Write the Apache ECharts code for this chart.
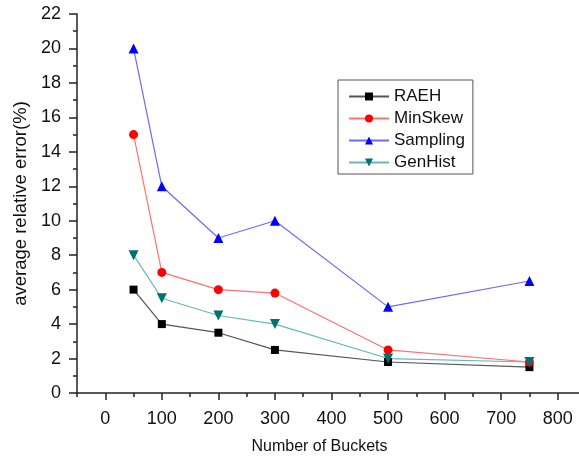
<!DOCTYPE html>
<html>
<head>
<meta charset="utf-8">
<script src="https://cdn.jsdelivr.net/npm/echarts@6/dist/echarts.min.js"></script>
<style>
  html, body { margin: 0; padding: 0; background: #fff; }
  #chart { width: 579px; height: 458px; }
</style>
</head>
<body>
<div id="chart"></div>
<script>
// buckets on the x axis
const buckets = [50, 100, 200, 300, 500, 750];

const raeh = [6, 4, 3.5, 2.5, 1.8, 1.5];
const minSkew = [15, 7, 6, 5.8, 2.5, 1.8];
const sampling = [20, 12, 9, 10, 5, 6.5];
const genHist = [8, 5.5, 4.5, 4, 2, 1.8];

// x ticks: labelled ones every 100, small ones halfway
const xMajorTicks = [0, 100, 200, 300, 400, 500, 600, 700, 800];
const xMinorTicks = [-50, 50, 150, 250, 350, 450, 550, 650, 750, 850];

const font = 'Liberation Sans, Arial, sans-serif';
const ink = '#222';

function pairs(vals) {
  return buckets.map((b, i) => [b, vals[i]]);
}

function line(name, vals, color, lineColor, symbol, size, rotate) {
  return {
    name: name,
    type: 'line',
    data: pairs(vals),
    symbol: symbol,
    symbolSize: size,
    symbolRotate: rotate || 0,
    itemStyle: { color: color },
    lineStyle: { color: lineColor, width: 1.2 },
    emphasis: { disabled: true },
    animation: false
  };
}

const chart = echarts.init(document.getElementById('chart'));
chart.setOption({
  backgroundColor: '#fff',
  grid: { left: 77, top: 14, width: 509, height: 379, outerBoundsMode: 'none' },
  legend: {
    left: 338, top: 80, orient: 'vertical',
    padding: [8, 8, 3, 10],
    borderColor: '#555', borderWidth: 1,
    itemWidth: 40, itemHeight: 10, itemGap: 5,
    textStyle: { fontFamily: font, fontSize: 17, color: '#111' },
    data: ['RAEH', 'MinSkew', 'Sampling', 'GenHist']
  },
  xAxis: [{
    type: 'value', min: -50, max: 850, interval: 50,
    name: 'Number of Buckets', nameLocation: 'middle', nameGap: 46,
    nameTextStyle: { fontFamily: font, fontSize: 16, color: '#111', padding: [0, 24, 0, 0] },
    axisLine: { onZero: false, lineStyle: { color: ink, width: 1.5 } },
    axisTick: { show: true, length: 7, customValues: xMajorTicks, lineStyle: { color: ink, width: 1.5 } },
    axisLabel: {
      fontFamily: font, fontSize: 18, color: '#111', margin: 17,
      customValues: xMajorTicks
    },
    splitLine: { show: false }
  }, {
    type: 'value', min: -50, max: 850, interval: 50, position: 'bottom',
    axisLine: { show: false, onZero: false },
    axisTick: { show: true, length: 4, customValues: xMinorTicks, lineStyle: { color: ink, width: 1.5 } },
    axisLabel: { show: false },
    splitLine: { show: false }
  }],
  yAxis: {
    type: 'value', min: 0, max: 22, interval: 2,
    name: 'average relative error(%)', nameLocation: 'middle', nameGap: 44,
    nameTextStyle: { fontFamily: font, fontSize: 18.5, color: '#111' },
    axisLine: { show: true, onZero: false, lineStyle: { color: ink, width: 1.5 } },
    axisTick: { show: true, length: 8, lineStyle: { color: ink, width: 1.5 } },
    minorTick: { show: true, splitNumber: 2, length: 4, lineStyle: { color: ink, width: 1.5 } },
    axisLabel: { fontFamily: font, fontSize: 18, color: '#111', margin: 16 },
    splitLine: { show: false }
  },
  series: [
    line('RAEH', raeh, '#000', '#555', 'rect', 8),
    line('MinSkew', minSkew, '#ff0000', '#ff7070', 'circle', 9),
    line('Sampling', sampling, '#0000ff', '#6a6aff', 'triangle', 10),
    line('GenHist', genHist, '#007070', '#66b8b8', 'triangle', 10, 180)
  ]
});
</script>
</body>
</html>
